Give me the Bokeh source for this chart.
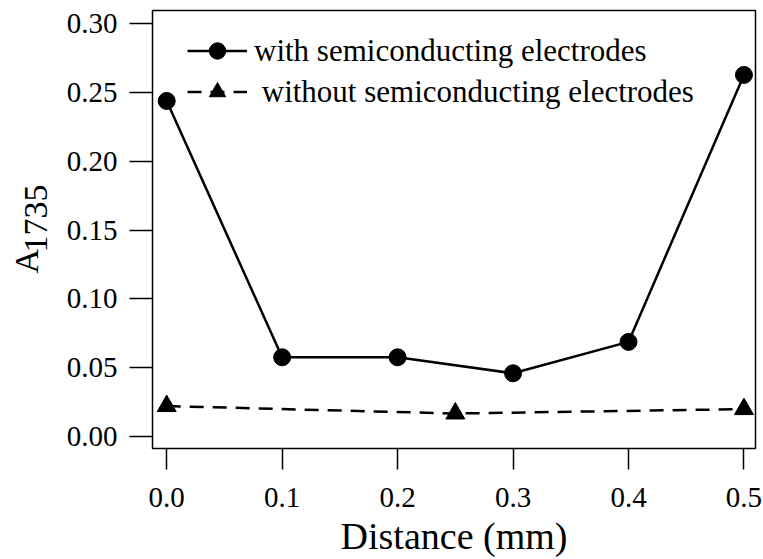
from bokeh.plotting import figure
from bokeh.models import (Range1d, FixedTicker, NumeralTickFormatter, Legend, LegendItem)
from bokeh.layouts import row
from bokeh.core.properties import value
from bokeh.embed import file_html
from bokeh.resources import INLINE
import math

# Data
with_x = [0.0, 0.1, 0.2, 0.3, 0.4, 0.5]
with_y = [0.2437, 0.0576, 0.0576, 0.046, 0.0688, 0.2626]
without_x = [0.0, 0.25, 0.5]
without_y = [0.0222, 0.0168, 0.0200]
x_ticks = [0.0, 0.1, 0.2, 0.3, 0.4, 0.5]
y_ticks = [0.0, 0.05, 0.10, 0.15, 0.20, 0.25, 0.30]
x_label = "Distance (mm)"
y_label_main = "A"
y_label_sub = "1735"
label_with = "with semiconducting electrodes"
label_without = " without semiconducting electrodes"

FONT = "Liberation Serif"

p = figure(width=703, height=559, output_backend="svg", toolbar_location=None, title=None,
           x_range=Range1d(-0.0123, 0.510), y_range=Range1d(-0.0086, 0.3094),
           min_border_left=92, min_border_right=8, min_border_top=10, min_border_bottom=107)

p.background_fill_color = "white"
p.border_fill_color = "white"
p.outline_line_color = "black"
p.outline_line_width = 1.5
p.xgrid.visible = False
p.ygrid.visible = False

for ax in (p.xaxis[0], p.yaxis[0]):
    ax.axis_line_color = None
    ax.major_tick_line_color = "black"
    ax.major_tick_line_width = 1.5
    ax.major_tick_in = 0
    ax.minor_tick_line_color = None
    ax.major_label_text_font = FONT
    ax.major_label_text_font_size = "29px"
    ax.major_label_text_color = "black"

p.xaxis.ticker = FixedTicker(ticks=x_ticks)
p.yaxis.ticker = FixedTicker(ticks=y_ticks)
p.xaxis.formatter = NumeralTickFormatter(format="0.0")
p.yaxis.formatter = NumeralTickFormatter(format="0.00")
p.xaxis.major_tick_out = 21
p.yaxis.major_tick_out = 23
p.xaxis.major_label_standoff = 18
p.yaxis.major_label_standoff = 12

p.xaxis.axis_label = x_label
p.xaxis.axis_label_text_font = FONT
p.xaxis.axis_label_text_font_size = "38px"
p.xaxis.axis_label_text_font_style = "normal"
p.xaxis.axis_label_text_color = "black"
p.xaxis.axis_label_standoff = 5

# Series
l1 = p.line(with_x, with_y, line_color="black", line_width=2.5)
s1 = p.scatter(with_x, with_y, marker="circle", size=17, fill_color="black", line_color="black")
l2 = p.line(without_x, without_y, line_color="black", line_width=2.5, line_dash="14 9")
s2 = p.scatter(without_x, without_y, marker="triangle", size=19, fill_color="black", line_color="black")

legend = Legend(items=[LegendItem(label=label_with, renderers=[l1, s1]),
                       LegendItem(label=label_without, renderers=[l2, s2])],
                location=(35, 336), orientation="vertical",
                border_line_alpha=0, background_fill_alpha=0,
                padding=0, margin=0, spacing=0,
                glyph_width=60, glyph_height=41, label_height=41,
                label_standoff=7,
                label_text_font=FONT, label_text_font_size="31px",
                label_text_color="black")
p.add_layout(legend)

# Narrow figure holding the y-axis title with its subscript.
# Its frame is aligned with the main frame (canvas rows 10..452), so the
# y range is expressed as "pixels from the bottom of the page".
lab = figure(width=60, height=559, output_backend="svg", toolbar_location=None, title=None,
             x_range=Range1d(0, 60), y_range=Range1d(107, 549),
             x_axis_location=None, y_axis_location=None,
             min_border_left=0, min_border_right=0, min_border_top=10, min_border_bottom=107)
lab.outline_line_color = None
lab.xgrid.visible = False
lab.ygrid.visible = False
lab.background_fill_color = "white"
lab.border_fill_color = "white"
lab.text(x=[26], y=[296], text=[y_label_main], angle=math.pi / 2,
         text_font=value(FONT), text_font_size="34px", text_align="center",
         text_baseline="middle", text_color="black")
lab.text(x=[35], y=[339], text=[y_label_sub], angle=math.pi / 2,
         text_font=value(FONT), text_font_size="34px", text_align="center",
         text_baseline="middle", text_color="black")

layout = row(lab, p, spacing=0)
open("out.html", "w").write(file_html(layout, INLINE))
